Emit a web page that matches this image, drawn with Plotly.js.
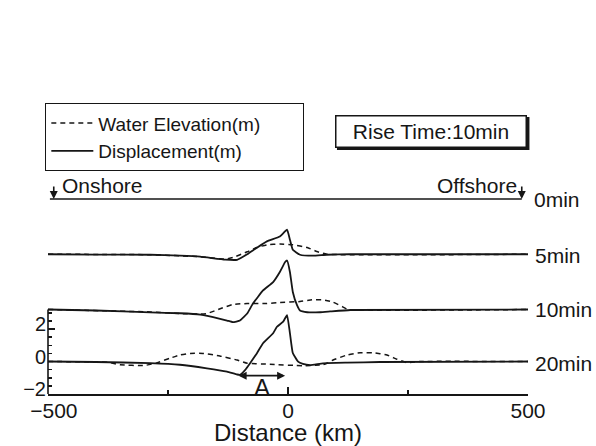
<!DOCTYPE html>
<html>
<head>
<meta charset="utf-8">
<script src="https://cdn.plot.ly/plotly-3.0.1.min.js"></script>
<style>html,body{margin:0;padding:0;background:#fff;}#chart{width:596px;height:446px;}</style>
</head>
<body>
<div id="chart"></div>
<script>
// ---- data (values relative to each profile's baseline, metres; distance in km) ----
const timeLabels = ['0min', '5min', '10min', '20min'];
const timeOffsets = [10, 6.6, 3.2, 0];

const dist0 = [-496, 487];
const disp0 = [0, 0];

const dist5Disp = [-500, -400, -287, -225, -183, -131, -106, -85, -65, -44, -17, -2, 4, 10, 25, 52, 81, 129, 500];
const disp5 = [0, -0.02, -0.03, -0.09, -0.15, -0.33, -0.34, 0, 0.4, 0.79, 1.09, 1.51, 0.9, 0.28, -0.03, -0.09, -0.03, 0, 0];
const dist5Water = [-500, -287, -183, -131, -115, -85, -65, -44, -17, 10, 40, 60, 81, 500];
const water5 = [0, -0.03, -0.15, -0.3, -0.2, 0.15, 0.42, 0.58, 0.63, 0.58, 0.42, 0.17, 0, 0];

const dist10Disp = [-500, -400, -287, -225, -183, -156, -127, -115, -100, -85, -73, -52, -31, -17, -6, -2, 4, 10, 19, 25, 40, 67, 88, 130, 500];
const disp10 = [0, -0.06, -0.18, -0.23, -0.31, -0.47, -0.68, -0.78, -0.68, -0.25, 0.37, 1.17, 1.69, 2.31, 2.92, 3.02, 2.31, 1.08, 0.25, -0.06, -0.17, -0.17, -0.12, -0.03, 0];
const dist10Water = [-500, -287, -225, -183, -169, -140, -115, -85, -44, -17, 25, 50, 73, 94, 115, 125, 500];
const water10 = [0, -0.15, -0.25, -0.28, -0.25, 0.06, 0.31, 0.37, 0.37, 0.43, 0.49, 0.6, 0.6, 0.45, 0.15, 0, 0];

const dist20Disp = [-500, -400, -287, -225, -169, -127, -106, -100, -90, -79, -65, -52, -31, -23, -10, -2, 4, 10, 21, 31, 46, 73, 123, 192, 500];
const disp20 = [0, -0.03, -0.1, -0.2, -0.42, -0.63, -0.8, -0.82, -0.55, -0.11, 0.5, 1.12, 1.74, 2.14, 2.45, 2.86, 1.75, 0.52, -0.01, -0.15, -0.22, -0.11, -0.07, -0.03, 0];
const dist20Water = [-500, -375, -350, -300, -275, -246, -225, -204, -177, -142, -106, -85, -38, 31, 73, 81, 94, 123, 150, 177, 206, 227, 248, 275, 500];
const water20 = [0, -0.05, -0.2, -0.25, -0.1, 0.2, 0.4, 0.5, 0.5, 0.34, 0.09, -0.11, -0.17, -0.26, -0.2, -0.11, 0.09, 0.4, 0.54, 0.54, 0.4, 0.14, -0.07, 0, 0];

// marker "A": double arrow between these distances at this level, label position
const arrowA = {x0: -106, x1: -6, y: -0.87};
const labelA = {x: -54, y: -1.57, text: 'A'};

const xTickVals = [-500, 0, 500];
const xTickText = ['\u00a0\u00a0\u2212500', '0', '500'];
const xMinorTicks = [-250, 250];
const yTickVals = [-2, 0, 2];
const yTickText = ['\u22122', '0', '2'];
const yMinorTicks = [-1.5, -1, -0.5, 0.5, 1, 1.5, 2.5, 3];

// ---- styles ----
const INK = '#161616';
const FONT = 'Liberation Sans, Arial, sans-serif';
const PAD = '\u00a0\u00a0\u00a0\u00a0\u00a0\u00a0\u00a0';
const solid = {color: INK, width: 1.8, shape: 'spline', smoothing: 0.35};
const dashed = {color: INK, width: 1.5, dash: '5px,4px', shape: 'spline', smoothing: 0.35};

const profiles = [
  null,
  {dx: dist5Disp, dy: disp5, wx: dist5Water, wy: water5},
  {dx: dist10Disp, dy: disp10, wx: dist10Water, wy: water10},
  {dx: dist20Disp, dy: disp20, wx: dist20Water, wy: water20}
];

const traces = [];
traces.push({x: dist0, y: disp0.map(v => v + timeOffsets[0]), mode: 'lines', line: {color: INK, width: 1.6}, showlegend: false, hoverinfo: 'skip'});
profiles.forEach((p, i) => {
  if (!p) return;
  const off = timeOffsets[i];
  traces.push({x: p.wx, y: p.wy.map(v => v + off), mode: 'lines', line: dashed,
    name: 'Water Elevation(m)' + PAD, legendgroup: 'w', showlegend: i === 1, hoverinfo: 'skip'});
  traces.push({x: p.dx, y: p.dy.map(v => v + off), mode: 'lines', line: solid,
    name: 'Displacement(m)', legendgroup: 'd', showlegend: i === 1, hoverinfo: 'skip'});
});

const annotations = [];
// time labels
const labelY = [9.95, 6.55, 3.17, -0.1];
timeLabels.forEach((t, i) => {
  annotations.push({xref: 'paper', yref: 'y', x: i === 0 ? 1.008 : 1.0104, y: labelY[i], text: t,
    showarrow: false, xanchor: 'left', yanchor: 'middle', font: {size: 21, family: FONT, color: INK}});
});
// Onshore / Offshore
annotations.push({xref: 'x', yref: 'y', x: -475, y: 10.85, text: 'Onshore', showarrow: false, xanchor: 'left', yanchor: 'middle', font: {size: 21, family: FONT, color: INK}});
annotations.push({xref: 'x', yref: 'y', x: 481, y: 10.85, text: 'Offshore', showarrow: false, xanchor: 'right', yanchor: 'middle', font: {size: 21, family: FONT, color: INK}});
[dist0[0] + 8, dist0[1]].forEach(xv => {
  annotations.push({xref: 'x', yref: 'y', x: xv, y: timeOffsets[0], text: '', showarrow: true,
    ax: 0, ay: -14, arrowhead: 2, arrowsize: 1, arrowwidth: 1.6, arrowcolor: INK, standoff: 0});
});
// A arrow + label
annotations.push({xref: 'x', yref: 'y', axref: 'x', ayref: 'y', x: arrowA.x1, y: arrowA.y, ax: arrowA.x0, ay: arrowA.y,
  text: '', showarrow: true, arrowhead: 2, startarrowhead: 2, arrowside: 'end+start', arrowsize: 1, arrowwidth: 1.6, arrowcolor: INK, standoff: 0, startstandoff: 0});
annotations.push({xref: 'x', yref: 'y', x: labelA.x, y: labelA.y, text: labelA.text, showarrow: false,
  xanchor: 'center', yanchor: 'middle', font: {size: 24, family: FONT, color: INK}});
// Rise time box
annotations.push({xref: 'paper', yref: 'paper', x: 0.798, y: 1.0096, text: 'Rise Time:10min', showarrow: false,
  xanchor: 'center', yanchor: 'middle', width: 187, height: 28, bgcolor: '#fff', bordercolor: INK, borderwidth: 1.5, borderpad: 1,
  font: {size: 21, family: FONT, color: INK}});

const shapes = [
  {type: 'line', xref: 'paper', yref: 'y', x0: 0, x1: 0, y0: -2, y1: 3.2, line: {color: INK, width: 1.6}},
  {type: 'rect', xref: 'paper', yref: 'paper', x0: 0.602, x1: 1.003, y0: 0.9385, y1: 1.0654, fillcolor: INK, line: {width: 0}}
];

const layout = {
  width: 596, height: 446,
  margin: {l: 48, r: 68, t: 134, b: 52},
  paper_bgcolor: '#fff', plot_bgcolor: 'rgba(0,0,0,0)',
  font: {family: FONT, size: 21, color: INK},
  showlegend: true,
  legend: {x: -0.006, y: 1.119, xanchor: 'left', yanchor: 'top', bgcolor: '#fff', bordercolor: INK, borderwidth: 1.2,
    font: {size: 19, family: FONT, color: INK}, itemwidth: 42, tracegroupgap: 0},
  xaxis: {range: [-500, 500], tickmode: 'array', tickvals: xTickVals, ticktext: xTickText,
    ticks: 'inside', ticklen: 7, tickwidth: 1.5, tickcolor: INK, showline: true, linecolor: INK, linewidth: 1.6,
    zeroline: false, showgrid: false, tickfont: {size: 21}, ticklabelstandoff: -3,
    minor: {tickmode: 'array', tickvals: xMinorTicks, ticks: 'inside', ticklen: 4, tickwidth: 1.5, tickcolor: INK, showgrid: false},
    title: {text: 'Distance (km)', font: {size: 24}, standoff: 6}},
  yaxis: {range: [-2, 14], tickmode: 'array', tickvals: yTickVals, ticktext: yTickText,
    ticks: 'inside', ticklen: 7, tickwidth: 1.5, tickcolor: INK, showline: false, zeroline: false, showgrid: false,
    tickfont: {size: 20}, ticklabelshift: -5, ticklabelstandoff: 1,
    minor: {tickmode: 'array', tickvals: yMinorTicks, ticks: 'inside', ticklen: 4, tickwidth: 1.5, tickcolor: INK, showgrid: false}},
  annotations: annotations,
  shapes: shapes
};

Plotly.newPlot('chart', traces, layout, {staticPlot: true, displayModeBar: false});
</script>
</body>
</html>
